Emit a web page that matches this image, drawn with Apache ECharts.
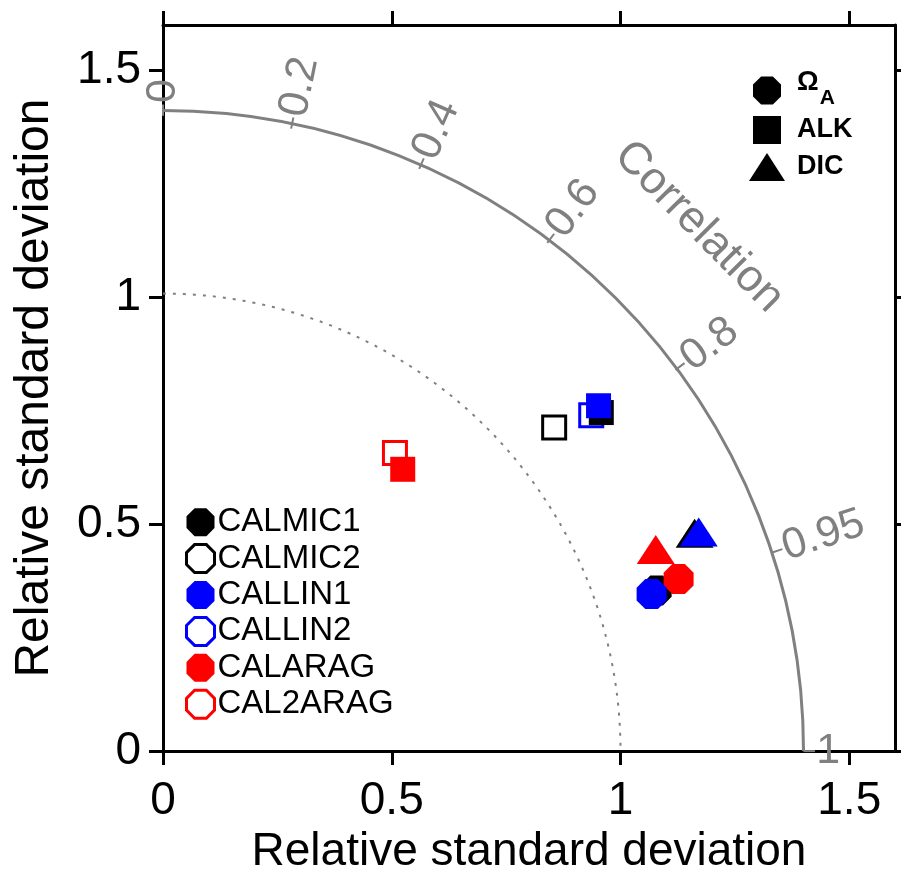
<!DOCTYPE html>
<html>
<head>
<meta charset="utf-8">
<script src="https://cdn.jsdelivr.net/npm/echarts@6/dist/echarts.min.js"></script>
<style>html,body{margin:0;padding:0;background:#fff}#c{width:901px;height:880px}</style>
</head>
<body>
<div id="c"></div>
<script>
// ---------- data ----------
const seriesNames = ['CALMIC1', 'CALMIC2', 'CALLIN1', 'CALLIN2', 'CALARAG', 'CAL2ARAG'];
const seriesColors = ['#000000', '#000000', '#0000ff', '#0000ff', '#ff0000', '#ff0000'];
const seriesFilled = [true, false, true, false, true, false];
// [x, y] in relative-standard-deviation units (x = sigma*R, y = sigma*sin(acos R))
const omegaPts = [[1.079, 0.354], null, [1.068, 0.346], null, [1.127, 0.379], null];
const alkPts   = [[0.958, 0.746], [0.855, 0.713], [0.952, 0.761], [0.936, 0.740], [0.524, 0.621], [0.507, 0.657]];
const dicPts   = [[1.162, 0.480], null, [1.171, 0.483], null, [1.077, 0.444], null];
const variableNames = ['ΩA', 'ALK', 'DIC'];
const axisTickValues = [0, 0.5, 1, 1.5];
const corrTicks = [0, 0.2, 0.4, 0.6, 0.8, 0.95, 1];
const corrTickLabels = ['0', '0.2', '0.4', '0.6', '0.8', '0.95', '1'];
const refStdRadius = [1.4];
const unitStdRadius = [1];
const corrTitle = ['Correlation'];
const corrTitleRadius = 1.645;
const corrTitleCorr = 0.712;

// ---------- styling ----------
const FONT = "'Liberation Sans', Arial, sans-serif";
const GRAY = '#808080';
const OCT = 'path://M29,0L71,0L100,29L100,71L71,100L29,100L0,71L0,29Z';
const SQR = 'path://M0,0L100,0L100,100L0,100Z';
const drawOrder = [1, 3, 5, 0, 4, 2];

function arcRenderer(dashed) {
  return function (params, api) {
    const r = api.value(0);
    const c = api.coord([0, 0]);
    const e = api.coord([r, 0]);
    return {
      type: 'arc',
      shape: { cx: c[0], cy: c[1], r: e[0] - c[0], startAngle: -Math.PI / 2, endAngle: 0, clockwise: true },
      style: { fill: 'none', stroke: GRAY, lineWidth: dashed ? 2 : 3, lineDash: dashed ? [3, 7] : null }
    };
  };
}

function corrRender(params, api) {
  const cv = api.value(0);
  const th = Math.acos(cv);
  const rr = refStdRadius[0];
  const p0 = api.coord([rr * Math.cos(th), rr * Math.sin(th)]);
  const p1 = api.coord([(rr + 0.025) * Math.cos(th), (rr + 0.025) * Math.sin(th)]);
  const p2 = api.coord([(rr + 0.028) * Math.cos(th), (rr + 0.028) * Math.sin(th)]);
  return {
    type: 'group',
    children: [
      { type: 'line', shape: { x1: p0[0], y1: p0[1], x2: p1[0], y2: p1[1] }, style: { stroke: GRAY, lineWidth: 2 } },
      { type: 'text', x: p2[0], y: p2[1], rotation: th,
        style: { text: corrTickLabels[params.dataIndex], fontSize: 43, fontFamily: FONT, fill: GRAY, align: 'left', verticalAlign: 'middle' } }
    ]
  };
}

function corrTitleRender(params, api) {
  const th = Math.acos(corrTitleCorr);
  const p = api.coord([corrTitleRadius * Math.cos(th), corrTitleRadius * Math.sin(th)]);
  return {
    type: 'text', x: p[0], y: p[1], rotation: th - Math.PI / 2,
    style: { text: corrTitle[params.dataIndex], fontSize: 45, fontFamily: FONT, fill: GRAY, align: 'center', verticalAlign: 'middle' }
  };
}

const pointSeries = drawOrder.map(function (i) {
  const col = seriesColors[i];
  const filled = seriesFilled[i];
  const data = [];
  if (omegaPts[i]) data.push({ value: omegaPts[i], symbol: OCT, symbolSize: 30 });
  if (alkPts[i]) data.push({ value: alkPts[i], symbol: SQR, symbolSize: filled ? 25 : 23 });
  if (dicPts[i]) data.push({ value: dicPts[i], symbol: 'triangle', symbolSize: [38, 29] });
  return {
    type: 'scatter', name: seriesNames[i], data: data, z: 3,
    itemStyle: filled ? { color: col, opacity: 1 } : { color: 'rgba(255,255,255,0)', borderColor: col, borderWidth: 3, opacity: 1 },
    emphasis: { disabled: true }
  };
});

const varSeries = variableNames.map(function (n) {
  return { type: 'scatter', name: n, data: [], itemStyle: { color: '#000', opacity: 1 } };
});

const axisCommon = {
  type: 'value', min: 0, max: 1.6, interval: 0.5,
  axisLine: { show: true, onZero: false, lineStyle: { color: '#000', width: 3 } },
  axisTick: { show: true, length: 14, inside: false, customValues: axisTickValues, lineStyle: { color: '#000', width: 3 } },
  splitLine: { show: false }
};

const option = {
  animation: false,
  backgroundColor: '#fff',
  grid: { left: 163, right: 6, top: 25, bottom: 124, containLabel: false },
  xAxis: [
    Object.assign({}, axisCommon, {
      position: 'bottom',
      axisLabel: { customValues: axisTickValues, fontSize: 46, color: '#000', fontFamily: FONT, margin: 27 },
      name: 'Relative standard deviation', nameLocation: 'middle', nameGap: 68,
      nameTextStyle: { fontSize: 46, color: '#000', fontFamily: FONT }
    }),
    Object.assign({}, axisCommon, { position: 'top', axisLabel: { show: false } })
  ],
  yAxis: [
    Object.assign({}, axisCommon, {
      position: 'left',
      axisLabel: { customValues: axisTickValues, fontSize: 46, color: '#000', fontFamily: FONT, margin: 22 },
      name: 'Relative standard deviation', nameLocation: 'middle', nameGap: 104,
      nameTextStyle: { fontSize: 48, color: '#000', fontFamily: FONT }
    }),
    Object.assign({}, axisCommon, { position: 'right', axisLabel: { show: false } })
  ],
  legend: [
    {
      orient: 'vertical', left: 180, top: 499, itemWidth: 28, itemHeight: 28, itemGap: 0,
      selectedMode: false,
      data: seriesNames.map(function (n, i) {
        return {
          name: n, icon: OCT,
          itemStyle: seriesFilled[i] ? { color: seriesColors[i], borderWidth: 0, opacity: 1 } : { color: '#fff', borderColor: seriesColors[i], borderWidth: 3, opacity: 1 }
        };
      }),
      textStyle: { fontSize: 33, lineHeight: 36.4, color: '#000', fontFamily: FONT, padding: [0, 0, 0, -2] }
    },
    {
      orient: 'vertical', left: 744, top: 64.5, itemWidth: 36, itemHeight: 28, itemGap: 0,
      selectedMode: false,
      data: [
        { name: variableNames[0], icon: OCT, itemStyle: { color: '#000', opacity: 1 } },
        { name: variableNames[1], icon: SQR, itemStyle: { color: '#000', opacity: 1 } },
        { name: variableNames[2], icon: 'triangle', itemStyle: { color: '#000', opacity: 1 } }
      ],
      formatter: function (n) { return n === variableNames[0] ? '{b|Ω}{s|A}' : n; },
      textStyle: {
        fontSize: 27, fontWeight: 'bold', lineHeight: 37, color: '#000', fontFamily: FONT, padding: [0, 0, 0, 7],
        rich: {
          b: { fontSize: 27, fontWeight: 'bold', lineHeight: 22, padding: [0, 0, 15, 0], fontFamily: FONT, color: '#000' },
          s: { fontSize: 21, fontWeight: 'bold', lineHeight: 18, padding: [17, 0, 2, 1], fontFamily: FONT, color: '#000' }
        }
      }
    }
  ],
  series: [
    { type: 'custom', name: 'refArc', data: refStdRadius.map(function (v) { return [v]; }), renderItem: arcRenderer(false), z: 1, silent: true, clip: false },
    { type: 'custom', name: 'unitArc', data: unitStdRadius.map(function (v) { return [v]; }), renderItem: arcRenderer(true), z: 1, silent: true, clip: false },
    { type: 'custom', name: 'corrTicks', data: corrTicks.map(function (v) { return [v]; }), renderItem: corrRender, z: 1, silent: true, clip: false },
    { type: 'custom', name: 'corrTitle', data: corrTitle.map(function (v, i) { return [i]; }), renderItem: corrTitleRender, z: 1, silent: true, clip: false }
  ].concat(pointSeries).concat(varSeries)
};

const chart = echarts.init(document.getElementById('c'), null, { renderer: 'canvas' });
chart.setOption(option);
</script>
</body>
</html>
